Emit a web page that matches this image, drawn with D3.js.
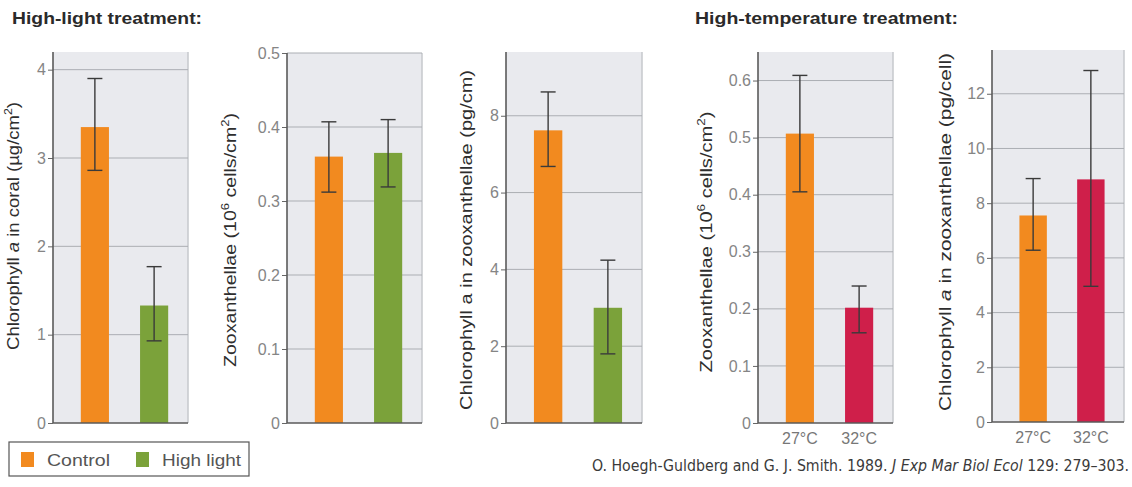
<!DOCTYPE html>
<html>
<head>
<meta charset="utf-8">
<script src="https://cdn.jsdelivr.net/npm/d3@7"></script>
<style>
  body { margin: 0; background: #fff; }
  text { font-family: "Liberation Sans", Arial, sans-serif; }
</style>
</head>
<body>
<div id="chart"></div>
<script>
// data
var lightGroups = ["Control", "High light"];
var tempGroups = ["27°C", "32°C"];

var chlCoralMean = [3.35, 1.33];
var chlCoralLow = [2.86, 0.93];
var chlCoralHigh = [3.90, 1.77];

var zooLightMean = [0.36, 0.365];
var zooLightLow = [0.312, 0.319];
var zooLightHigh = [0.407, 0.41];

var chlZooLightMean = [7.62, 3.0];
var chlZooLightLow = [6.68, 1.8];
var chlZooLightHigh = [8.62, 4.24];

var zooTempMean = [0.507, 0.202];
var zooTempLow = [0.405, 0.158];
var zooTempHigh = [0.609, 0.24];

var chlZooTempMean = [7.55, 8.87];
var chlZooTempLow = [6.28, 4.96];
var chlZooTempHigh = [8.9, 12.85];

var ticks1 = [0, 1, 2, 3, 4];
var ticks2 = [0, 0.1, 0.2, 0.3, 0.4, 0.5];
var ticks3 = [0, 2, 4, 6, 8];
var ticks4 = [0, 0.1, 0.2, 0.3, 0.4, 0.5, 0.6];
var ticks5 = [0, 2, 4, 6, 8, 10, 12];

var orange = '#F28A1F', green = '#7BA23A', red = '#CF1F4A';

var W = 1132, H = 487;
var svg = d3.select("#chart").append("svg")
  .attr("width", W).attr("height", H);

var dec = function(d){ return d === 0 ? "0" : d3.format(".1f")(d); };

// label parts: [text, style] style: n normal, i italic, s superscript
var panels = [
  {left: 53, right: 188, top: 52, bottom: 423, max: 4.2, ticks: ticks1, fmt: d3.format("d"),
   mean: chlCoralMean, low: chlCoralLow, high: chlCoralHigh, groups: lightGroups, colors: [orange, green],
   labelX: 19, labelY: 226, labelLen: 248,
   label: [["Chlorophyll ", "n"], ["a", "i"], [" in coral (µg/cm", "n"], ["2", "s"], [")", "n"]]},
  {left: 287, right: 422, top: 53, bottom: 423, max: 0.5, ticks: ticks2, fmt: dec,
   mean: zooLightMean, low: zooLightLow, high: zooLightHigh, groups: lightGroups, colors: [orange, green],
   labelX: 236, labelY: 240, labelLen: 254,
   label: [["Zooxanthellae (10", "n"], ["6", "s"], [" cells/cm", "n"], ["2", "s"], [")", "n"]]},
  {left: 506, right: 642, top: 52, bottom: 423, max: 9.66, ticks: ticks3, fmt: d3.format("d"),
   mean: chlZooLightMean, low: chlZooLightLow, high: chlZooLightHigh, groups: lightGroups, colors: [orange, green],
   labelX: 472, labelY: 240, labelLen: 340,
   label: [["Chlorophyll a in zooxanthellae (pg/cm)", "n"]]},
  {left: 758, right: 893, top: 52, bottom: 423, max: 0.65, ticks: ticks4, fmt: dec,
   mean: zooTempMean, low: zooTempLow, high: zooTempHigh, groups: tempGroups, colors: [orange, red], xlabels: true,
   labelX: 712, labelY: 242, labelLen: 261,
   label: [["Zooxanthellae (10", "n"], ["6", "s"], [" cells/cm", "n"], ["2", "s"], [")", "n"]]},
  {left: 992, right: 1124, top: 50, bottom: 422, max: 13.6, ticks: ticks5, fmt: d3.format("d"),
   mean: chlZooTempMean, low: chlZooTempLow, high: chlZooTempHigh, groups: tempGroups, colors: [orange, red], xlabels: true,
   labelX: 951, labelY: 232, labelLen: 358,
   label: [["Chlorophyll ", "n"], ["a", "i"], [" in zooxanthellae (pg/cell)", "n"]]}
];

panels.forEach(function(p) {
  var w = p.right - p.left;
  var g = svg.append("g").attr("transform", "translate(" + p.left + ",0)");

  var y = d3.scaleLinear().domain([0, p.max]).range([p.bottom, p.top]);
  var x = d3.scaleBand().domain(p.groups).range([13, w - 5])
    .paddingInner(0.525).paddingOuter(0.25);

  // background
  g.append("rect")
    .attr("x", 0).attr("y", p.top)
    .attr("width", w).attr("height", p.bottom - p.top)
    .attr("fill", "#E9EAEE");
  g.append("line")
    .attr("x1", w).attr("x2", w).attr("y1", p.top).attr("y2", p.bottom)
    .attr("stroke", "#C6C8CD").attr("stroke-width", 1.5);

  // grid lines
  g.selectAll(".grid")
    .data(p.ticks.filter(function(d){ return d > 0; }))
    .enter().append("line")
    .attr("x1", 0).attr("x2", w)
    .attr("y1", function(d){ return y(d); }).attr("y2", function(d){ return y(d); })
    .attr("stroke", "#ABAEB3").attr("stroke-width", 1);

  // bars
  g.selectAll(".bar")
    .data(p.mean)
    .enter().append("rect")
    .attr("x", function(d, i){ return x(p.groups[i]); })
    .attr("width", x.bandwidth())
    .attr("y", function(d){ return y(d); })
    .attr("height", function(d){ return y(0) - y(d); })
    .attr("fill", function(d, i){ return p.colors[i]; });

  // error bars
  var cap = 7.5;
  p.mean.forEach(function(m, i) {
    var cx = x(p.groups[i]) + x.bandwidth() / 2;
    var eb = g.append("g").attr("stroke", "#3A3A3A").attr("stroke-width", 1.4);
    eb.append("line").attr("x1", cx).attr("x2", cx)
      .attr("y1", y(p.high[i])).attr("y2", y(p.low[i]));
    eb.append("line").attr("x1", cx - cap).attr("x2", cx + cap)
      .attr("y1", y(p.high[i])).attr("y2", y(p.high[i]));
    eb.append("line").attr("x1", cx - cap).attr("x2", cx + cap)
      .attr("y1", y(p.low[i])).attr("y2", y(p.low[i]));
  });

  // y axis
  var yAxis = d3.axisLeft(y).tickValues(p.ticks).tickFormat(p.fmt).tickSize(5).tickPadding(2);
  var ax = g.append("g").call(yAxis);
  ax.select(".domain").remove();
  ax.selectAll(".tick line").attr("stroke", "#666");
  ax.selectAll(".tick text").attr("fill", "#858585").style("font-size", "16px")
    .style("font-family", "'Liberation Sans', Arial, sans-serif");

  g.append("line").attr("x1", 0).attr("x2", 0).attr("y1", p.top).attr("y2", p.bottom)
    .attr("stroke", "#5A5A5A").attr("stroke-width", 1.6);
  g.append("line").attr("x1", 0).attr("x2", w).attr("y1", p.bottom).attr("y2", p.bottom)
    .attr("stroke", "#5A5A5A").attr("stroke-width", 1.6);

  if (p.xlabels) {
    g.selectAll(".xl")
      .data(p.groups)
      .enter().append("text")
      .attr("x", function(d){ return x(d) + x.bandwidth() / 2; })
      .attr("y", p.bottom + 21)
      .attr("text-anchor", "middle")
      .attr("fill", "#777")
      .style("font-size", "16px")
      .text(function(d){ return d; });
  }

  // rotated axis title
  var lab = svg.append("text")
    .attr("transform", "translate(" + p.labelX + "," + p.labelY + ") rotate(-90)")
    .attr("text-anchor", "middle")
    .attr("fill", "#2E2E2E")
    .attr("textLength", p.labelLen).attr("lengthAdjust", "spacingAndGlyphs")
    .style("font-size", "16.5px");
  p.label.forEach(function(part, k) {
    var t = lab.append("tspan").text(part[0]);
    if (part[1] === "i") t.style("font-style", "italic");
    if (part[1] === "s") t.attr("dy", -7).style("font-size", "11px");
    if (k > 0 && p.label[k - 1][1] === "s") t.attr("dy", 7);
  });
});

// section titles
svg.append("text").attr("x", 12).attr("y", 24)
  .attr("fill", "#2A2A2A").style("font-size", "17px").style("font-weight", "bold")
  .attr("textLength", 190).attr("lengthAdjust", "spacingAndGlyphs")
  .text("High-light treatment:");
svg.append("text").attr("x", 695).attr("y", 24)
  .attr("fill", "#2A2A2A").style("font-size", "17px").style("font-weight", "bold")
  .attr("textLength", 263).attr("lengthAdjust", "spacingAndGlyphs")
  .text("High-temperature treatment:");

// legend
var legend = svg.append("g");
legend.append("rect").attr("x", 9).attr("y", 442).attr("width", 240).attr("height", 34)
  .attr("fill", "#fff").attr("stroke", "#555").attr("stroke-width", 1.2);
var legendItems = [[lightGroups[0], orange, 21, 47, 63], [lightGroups[1], green, 136, 162, 79]];
legendItems.forEach(function(it) {
  legend.append("rect").attr("x", it[2]).attr("y", 452).attr("width", 13).attr("height", 15).attr("fill", it[1]);
  legend.append("text").attr("x", it[3]).attr("y", 466)
    .attr("fill", "#555").style("font-size", "17px")
    .attr("textLength", it[4]).attr("lengthAdjust", "spacingAndGlyphs")
    .text(it[0]);
});

// citation
var cite = svg.append("text").attr("x", 592).attr("y", 471)
  .attr("fill", "#3A3A3A").style("font-size", "16px")
  .style("font-family", "'Liberation Sans Narrow', 'DejaVu Sans Condensed', Arial, sans-serif")
  .attr("textLength", 537).attr("lengthAdjust", "spacingAndGlyphs");
cite.append("tspan").text("O. Hoegh-Guldberg and G. J. Smith. 1989. ");
cite.append("tspan").style("font-style", "italic").text("J Exp Mar Biol Ecol");
cite.append("tspan").text(" 129: 279–303.");
</script>
</body>
</html>
